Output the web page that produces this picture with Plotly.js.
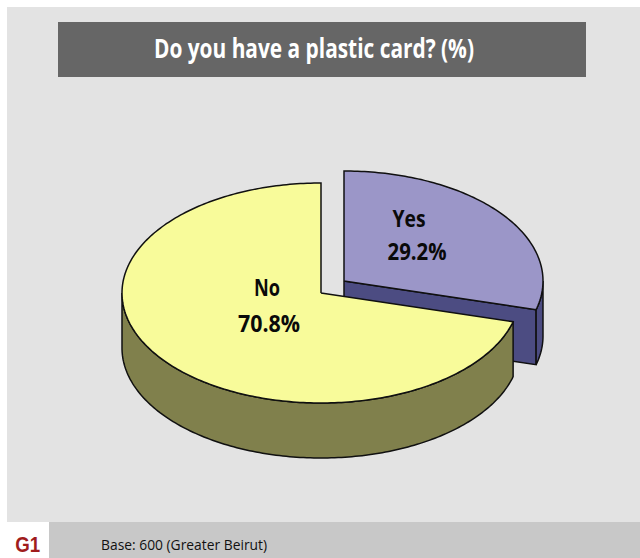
<!DOCTYPE html>
<html>
<head>
<meta charset="utf-8">
<title>Plastic card ownership</title>
<script src="https://cdn.plot.ly/plotly-3.0.1.min.js"></script>
<style>html,body{margin:0;padding:0;background:#fff;overflow:hidden}#chart{width:640px;height:558px}</style>
</head>
<body>
<div id="chart"></div>
<script>
// Survey answers, in percent, clockwise from twelve o'clock
const categories = ['Yes', 'No'];
const shares = [29.2, 70.8];
const titleText = 'Do you have a plastic card? (%)';
const baseNote = 'Base: 600 (Greater Beirut)';
const chartCode = 'G1';

// Projected pie geometry, in page-sized axis units
const radiusX = 199, radiusY = 110, depth = 55;
const centres = { Yes: [344, 281], No: [321, 293] };
const labelSpots = { Yes: [[409, 221], [417, 254]], No: [[267, 290], [269, 326]] };
const topColours = { Yes: '#9b96c8', No: '#f8fb9a' };
const sideColours = { Yes: '#4c4c82', No: '#80804c' };
const outline = { color: '#101010', width: 1.5 };
const labelFont = '"Open Sans", sans-serif';

const total = shares.reduce((a, b) => a + b, 0);
const yesEnd = shares[0] / total * 360;

// Point on the tilted rim; angle runs clockwise from the top of the pie
function rim(centre, deg, drop) {
  const a = deg * Math.PI / 180;
  return [centre[0] + radiusX * Math.sin(a), centre[1] - radiusY * Math.cos(a) + (drop || 0)];
}
function arc(centre, from, to, drop) {
  const pts = [];
  const n = Math.max(2, Math.ceil(Math.abs(to - from)));
  for (let i = 0; i <= n; i++) pts.push(rim(centre, from + (to - from) * i / n, drop));
  return pts;
}
function polygon(pts, colour) {
  const closed = pts.concat([pts[0]]);
  return {
    type: 'scatter', mode: 'lines', fill: 'toself', fillcolor: colour,
    x: closed.map(p => p[0]), y: closed.map(p => p[1]),
    line: { color: outline.color, width: outline.width, simplify: false },
    hoverinfo: 'skip', showlegend: false
  };
}
function textTrace(spots, words) {
  return {
    type: 'scatter', mode: 'text',
    x: spots.map(s => s[0]), y: spots.map(s => s[1]), text: words,
    textposition: 'middle center',
    textfont: { family: labelFont, size: 24, color: '#0a0a0a', weight: 700 },
    hoverinfo: 'skip', showlegend: false
  };
}

const yc = centres.Yes, nc = centres.No;
const yesLabel = shares[0].toFixed(1) + '%', noLabel = shares[1].toFixed(1) + '%';
const traces = [
  // Detached slice: cut face, outer wall, top
  polygon([yc, rim(yc, yesEnd), rim(yc, yesEnd, depth), [yc[0], yc[1] + depth]], sideColours.Yes),
  polygon(arc(yc, 90, yesEnd).concat(arc(yc, yesEnd, 90, depth)), sideColours.Yes),
  polygon([yc].concat(arc(yc, 0, yesEnd)), topColours.Yes),
  // Larger slice: outer wall, top
  polygon(arc(nc, yesEnd, 270).concat(arc(nc, 270, yesEnd, depth)), sideColours.No),
  polygon([nc].concat(arc(nc, yesEnd, 360)), topColours.No),
  textTrace(labelSpots.Yes, [categories[0], yesLabel]),
  textTrace(labelSpots.No, [categories[1], noLabel])
];

const hidden = { visible: false, fixedrange: true };
const layout = {
  width: 640, height: 558,
  margin: { l: 0, r: 0, t: 0, b: 0 },
  paper_bgcolor: '#ffffff', plot_bgcolor: 'rgba(0,0,0,0)',
  showlegend: false,
  xaxis: Object.assign({ range: [0, 640] }, hidden),
  yaxis: Object.assign({ range: [558, 0] }, hidden),
  title: {
    text: titleText,
    x: 0.4906, xanchor: 'center', y: 0.912, yanchor: 'middle',
    font: { family: labelFont, size: 26, color: '#ffffff', weight: 700 }
  },
  shapes: [
    { type: 'rect', layer: 'below', x0: 7, x1: 640, y0: 7, y1: 522, fillcolor: '#e3e3e3', line: { width: 0 } },
    { type: 'rect', layer: 'below', x0: 58, x1: 586, y0: 22, y1: 77, fillcolor: '#666666', line: { width: 0 } },
    { type: 'rect', layer: 'below', x0: 49, x1: 640, y0: 522, y1: 558, fillcolor: '#c8c8c8', line: { width: 0 } }
  ],
  annotations: [
    { x: 98, y: 544, xref: 'x', yref: 'y', xanchor: 'left', yanchor: 'middle', showarrow: false, text: baseNote,
      font: { family: labelFont, size: 14, color: '#111111' } },
    { x: 27.5, y: 558, xref: 'x', yref: 'y', xanchor: 'center', yanchor: 'bottom', showarrow: false, borderpad: 0, text: chartCode,
      font: { family: '"Liberation Sans", sans-serif', size: 22, color: '#a01c1c', weight: 700 } }
  ]
};

// The set type is condensed, so each string is fitted to its drawn width
const fittedWidths = new Map([
  [titleText, 320], [baseNote, 166], [chartCode, 25],
  [categories[0], 33], [yesLabel, 59], [categories[1], 26], [noLabel, 62]
]);

Plotly.newPlot('chart', traces, layout, { displayModeBar: false, staticPlot: true }).then(gd => {
  gd.querySelectorAll('svg text').forEach(node => {
    const width = fittedWidths.get(node.textContent);
    if (width) {
      node.setAttribute('textLength', width);
      node.setAttribute('lengthAdjust', 'spacingAndGlyphs');
    }
  });
});
</script>
</body>
</html>
